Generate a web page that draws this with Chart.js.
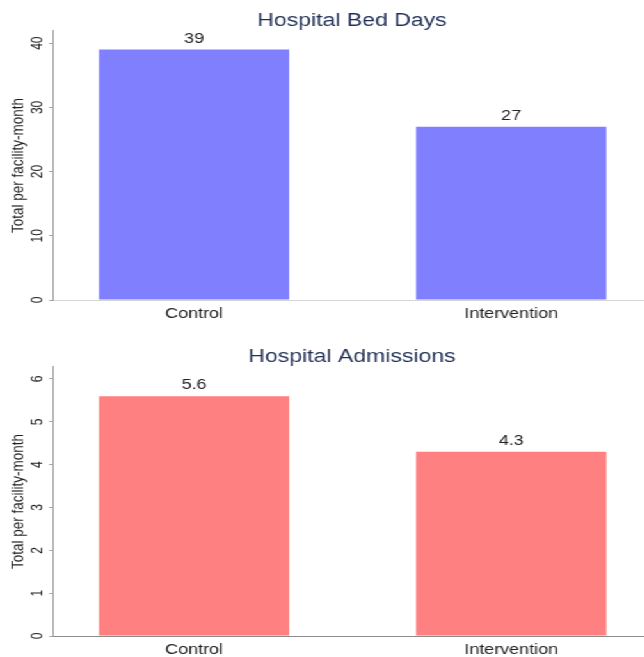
<!DOCTYPE html>
<html>
<head>
<meta charset="utf-8">
<title>Hospital Bed Days and Admissions</title>
<script src="https://cdn.jsdelivr.net/npm/chart.js@4.4.1/dist/chart.umd.min.js"></script>
<style>
  html, body { margin: 0; padding: 0; background: #fff; width: 644px; height: 657px; overflow: hidden; }
  /* the source graph is stretched sideways, so the drawing is widened the same way */
  #wrap { width: 550px; transform: scaleX(1.28); transform-origin: 0 0; }
  canvas { display: block; }
</style>
</head>
<body>
<div id="wrap">
  <canvas id="bedDays" width="550" height="336"></canvas>
  <canvas id="admissions" width="550" height="336"></canvas>
</div>
<script>
const categories = ['Control', 'Intervention'];

const bedDays = [39, 27];
const bedDayLabels = ['39', '27'];
const bedDayTicks = [0, 10, 20, 30, 40];
const bedDayMax = 41.9;

const admissions = [5.6, 4.3];
const admissionLabels = ['5.6', '4.3'];
const admissionTicks = [0, 1, 2, 3, 4, 5, 6];
const admissionMax = 6.28;

const FONT = '"Liberation Sans", Arial, Helvetica, sans-serif';
const TEXT = '#222222';

// draws the number above each bar
const valueLabels = {
  id: 'valueLabels',
  afterDatasetsDraw(chart, args, opts) {
    const ctx = chart.ctx;
    const meta = chart.getDatasetMeta(0);
    ctx.save();
    ctx.font = '14px ' + FONT;
    ctx.fillStyle = TEXT;
    ctx.textAlign = 'center';
    ctx.textBaseline = 'middle';
    meta.data.forEach((bar, i) => {
      ctx.fillText(opts.labels[i], bar.x, bar.y - 10.7);
    });
    ctx.restore();
  }
};

function makeChart(id, title, values, labels, ticks, yMax, color, xLine, tickPad) {
  const ctx = document.getElementById(id).getContext('2d');
  return new Chart(ctx, {
    type: 'bar',
    data: {
      datasets: [{
        data: values.map((v, i) => ({x: i, y: v})),
        backgroundColor: color,
        borderWidth: 0,
        categoryPercentage: 1,
        barPercentage: 0.6,
      }]
    },
    plugins: [valueLabels],
    options: {
      responsive: false,
      animation: false,
      layout: { padding: 0 },
      scales: {
        x: {
          type: 'linear',
          offset: false,
          min: -0.445,
          max: 1.608,
          afterBuildTicks: s => { s.ticks = categories.map((c, i) => ({value: i})); },
          afterFit: s => { s.height = 36; },
          grid: { display: false, drawTicks: false },
          border: { display: true, color: xLine, width: 1 },
          ticks: {
            padding: 6.2,
            color: TEXT,
            font: { family: FONT, size: 14 },
            maxRotation: 0,
            callback: v => categories[v]
          }
        },
        y: {
          min: 0,
          max: yMax,
          afterBuildTicks: s => { s.ticks = ticks.map(v => ({value: v})); },
          afterFit: s => { s.width = 41.4; },
          grid: { drawOnChartArea: false, drawTicks: true, tickLength: 3, color: '#a3a3a3' },
          border: { display: true, color: '#a3a3a3', width: 1 },
          ticks: {
            minRotation: 90,
            maxRotation: 90,
            crossAlign: 'center',
            padding: tickPad,
            color: TEXT,
            font: { family: FONT, size: 12 }
          },
          title: {
            display: true,
            text: 'Total per facility-month',
            color: TEXT,
            font: { family: FONT, size: 13.5 },
            padding: { top: 6.6, bottom: 0 }
          }
        }
      },
      plugins: {
        legend: { display: false },
        tooltip: { enabled: false },
        title: {
          display: true,
          text: title,
          color: '#1f2f55',
          font: { family: FONT, size: 18, weight: 'normal' },
          padding: { top: 10.2, bottom: -0.8 }
        },
        valueLabels: { labels: labels }
      }
    }
  });
}

makeChart('bedDays', 'Hospital Bed Days', bedDays, bedDayLabels, bedDayTicks, bedDayMax, '#8080ff', '#d6d6d6', 2.3);
makeChart('admissions', 'Hospital Admissions', admissions, admissionLabels, admissionTicks, admissionMax, '#ff8080', '#8c8c8c', 5.1);
</script>
</body>
</html>
